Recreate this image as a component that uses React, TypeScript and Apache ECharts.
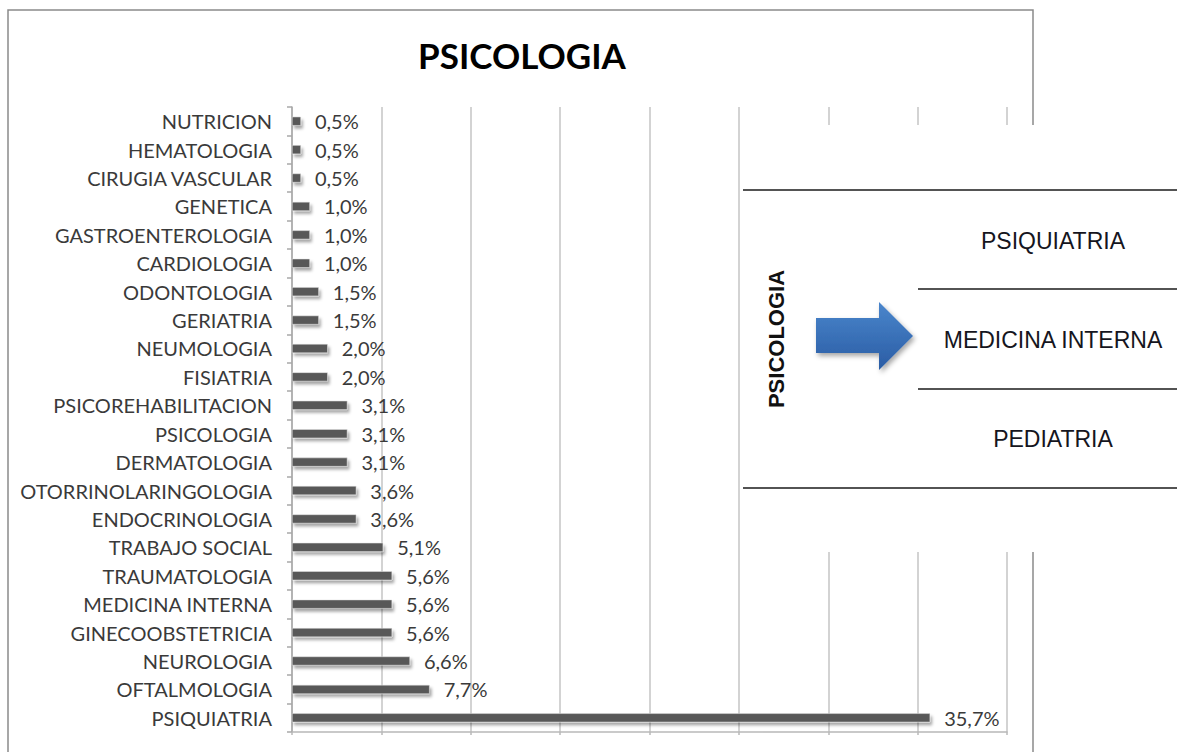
import React, { useEffect, useRef } from "react";
import * as echarts from "echarts";

const categories = [
  "PSIQUIATRIA", "OFTALMOLOGIA", "NEUROLOGIA", "GINECOOBSTETRICIA", "MEDICINA INTERNA",
  "TRAUMATOLOGIA", "TRABAJO SOCIAL", "ENDOCRINOLOGIA", "OTORRINOLARINGOLOGIA", "DERMATOLOGIA",
  "PSICOLOGIA", "PSICOREHABILITACION", "FISIATRIA", "NEUMOLOGIA", "GERIATRIA",
  "ODONTOLOGIA", "CARDIOLOGIA", "GASTROENTEROLOGIA", "GENETICA", "CIRUGIA VASCULAR",
  "HEMATOLOGIA", "NUTRICION",
];
const values = [
  35.7, 7.7, 6.6, 5.6, 5.6,
  5.6, 5.1, 3.6, 3.6, 3.1,
  3.1, 3.1, 2.0, 2.0, 1.5,
  1.5, 1.0, 1.0, 1.0, 0.5,
  0.5, 0.5,
];
const title = "PSICOLOGIA";
const sideLabel = "PSICOLOGIA";
const destinations = ["PSIQUIATRIA", "MEDICINA INTERNA", "PEDIATRIA"];

const xMin = 0;
const xMax = 40;
const xInterval = 5;

export default function App() {
  const ref = useRef<HTMLDivElement>(null);
  useEffect(() => {
    if (!ref.current) return;
    const chart = echarts.init(ref.current, undefined, { renderer: "svg" });
    const labelFont = "Lato, 'Open Sans', sans-serif";
    const destY = [241, 340, 439];
    const option: any = {
      animation: false,
      backgroundColor: "#ffffff",
      grid: { left: 292, right: 170, top: 107, bottom: 20, containLabel: false },
      xAxis: {
        type: "value",
        min: xMin,
        max: xMax,
        interval: xInterval,
        axisLabel: { show: false },
        axisLine: { show: true, lineStyle: { color: "#b8b8b8", width: 1.5 } },
        axisTick: { show: true, length: 3, lineStyle: { color: "#b8b8b8", width: 1.5 } },
        splitLine: { show: true, lineStyle: { color: "#c4c4c4", width: 1.5 } },
      },
      yAxis: {
        type: "category",
        data: categories,
        axisLine: { show: true, lineStyle: { color: "#a8a8a8", width: 1.5 } },
        axisTick: { show: true, length: 5, lineStyle: { color: "#a8a8a8", width: 1.5 } },
        axisLabel: {
          margin: 20,
          color: "#3a3a3a",
          fontFamily: labelFont,
          fontSize: 20,
        },
        splitLine: { show: false },
      },
      series: [
        {
          type: "bar",
          data: values,
          barWidth: 9,
          itemStyle: {
            color: "#595959",
            borderColor: "#e4e4e4",
            borderWidth: 0.5,
            shadowColor: "rgba(0,0,0,0.35)",
            shadowBlur: 3,
            shadowOffsetX: 2,
            shadowOffsetY: 3,
          },
          label: {
            show: true,
            position: "right",
            distance: 14,
            color: "#3a3a3a",
            fontFamily: labelFont,
            fontSize: 20,
            formatter: (p: any) => p.value.toFixed(1).replace(".", ",") + "%",
          },
        },
      ],
      graphic: [
        {
          type: "rect",
          z: 0,
          shape: { x: 8, y: 10, width: 1025, height: 770 },
          style: { fill: "none", stroke: "#8a8a8a", lineWidth: 1.5 },
        },
        {
          type: "text",
          z: 10,
          x: 522,
          y: 55,
          style: {
            text: title,
            font: "bold 35px Lato, sans-serif",
            fill: "#000000",
            textAlign: "center",
            textVerticalAlign: "middle",
          },
        },
        {
          type: "rect",
          z: 100,
          shape: { x: 741.5, y: 125, width: 436, height: 427 },
          style: { fill: "#ffffff" },
        },
        {
          type: "line",
          z: 101,
          shape: { x1: 743, y1: 190, x2: 1177, y2: 190 },
          style: { stroke: "#1a1a1a", lineWidth: 1.5 },
        },
        {
          type: "line",
          z: 101,
          shape: { x1: 918, y1: 289, x2: 1177, y2: 289 },
          style: { stroke: "#1a1a1a", lineWidth: 1.5 },
        },
        {
          type: "line",
          z: 101,
          shape: { x1: 918, y1: 389, x2: 1177, y2: 389 },
          style: { stroke: "#1a1a1a", lineWidth: 1.5 },
        },
        {
          type: "line",
          z: 101,
          shape: { x1: 743, y1: 488, x2: 1177, y2: 488 },
          style: { stroke: "#1a1a1a", lineWidth: 1.5 },
        },
        {
          type: "polygon",
          z: 101,
          shape: {
            points: [
              [816, 318], [879, 318], [879, 302], [913, 336],
              [879, 370], [879, 353], [816, 353],
            ],
          },
          style: {
            fill: new echarts.graphic.LinearGradient(0, 0, 0, 1, [
              { offset: 0, color: "#4a86cc" },
              { offset: 1, color: "#2a5ca4" },
            ]),
            shadowColor: "rgba(0,0,0,0.35)",
            shadowBlur: 5,
            shadowOffsetX: 2,
            shadowOffsetY: 3,
          },
        },
        {
          type: "text",
          z: 101,
          x: 776,
          y: 339,
          rotation: Math.PI / 2,
          style: {
            text: sideLabel,
            font: "bold 22px 'Liberation Sans', Arial, sans-serif",
            fill: "#111111",
            textAlign: "center",
            textVerticalAlign: "middle",
          },
        },
        ...destinations.map((d, i) => ({
          type: "text",
          z: 101,
          x: 1053,
          y: destY[i],
          style: {
            text: d,
            font: "23px 'Liberation Sans', Arial, sans-serif",
            fill: "#151520",
            textAlign: "center",
            textVerticalAlign: "middle",
          },
        })),
      ],
    };
    chart.setOption(option);
    return () => chart.dispose();
  }, []);
  return (
    <div
      ref={ref}
      style={{ position: "absolute", left: 0, top: 0, width: 1177, height: 752 }}
    />
  );
}
